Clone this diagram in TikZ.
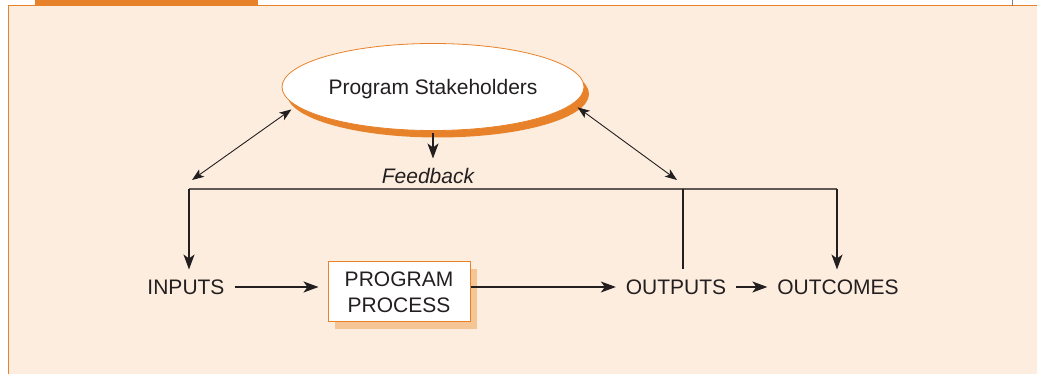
\documentclass[tikz,border=0pt]{standalone}
\usepackage{fontspec}
\setmainfont{Liberation Sans}
\usetikzlibrary{arrows.meta, positioning, shapes.geometric, shadows}

\definecolor{panel}{HTML}{FDEDDE}
\definecolor{accent}{HTML}{E8822A}
\definecolor{accentlight}{HTML}{F5C596}
\definecolor{ink}{HTML}{231F20}
\definecolor{rule}{HTML}{615855}

\begin{document}
\begin{tikzpicture}[
  x=1pt, y=-1pt,
  font=\fontsize{21}{26}\selectfont,
  stake/.style={ellipse, draw=accent, line width=0.8pt, fill=white, text=ink,
                minimum width=302pt, minimum height=87pt, inner sep=0pt, outer sep=7pt,
                text height=15pt, text depth=0pt,
                drop shadow={shadow xshift=5pt, shadow yshift=-7pt, fill=accent, opacity=1}},
  procbox/.style={draw=accent, line width=1pt, fill=white, text=ink, align=center,
                  minimum width=142pt, minimum height=60pt, inner sep=0pt,
                  drop shadow={shadow xshift=7pt, shadow yshift=-7pt, fill=accentlight, opacity=1}},
  lbl/.style={text=ink, inner sep=0pt, outer sep=10pt, text height=15pt, text depth=0pt},
  arr/.style={-{Stealth[length=15pt, width=11pt, inset=4pt]}, ink, line width=1.1pt},
  dbl/.style={{Stealth[length=12pt, width=9pt, inset=3pt]}-{Stealth[length=12pt, width=9pt, inset=3pt]},
              ink, line width=0.9pt},
  fbline/.style={rule, line width=1.6pt}
]
\useasboundingbox (0,0) rectangle (1037,374);

%% ---------- panel ----------
\fill[panel] (8,6) rectangle (1037,374);
\draw[accent, line width=1pt] (8,374) -- (8,6) -- (1037,6);
\fill[accent] (35,0) rectangle (258,6);
\draw[gray, line width=0.8pt] (1012,0) -- (1012,6);

%% ---------- nodes ----------
\node[stake] (stake) at (433,87) {Program Stakeholders};
\node[lbl] (fb) at (428,176) {\itshape Feedback};
\node[lbl] (inputs) at (186,287) {INPUTS};
\node[procbox] (proc) at (399,292) {PROGRAM\\PROCESS};
\node[lbl] (outputs) at (676,287) {OUTPUTS};
\node[lbl] (outcomes) at (838,287) {OUTCOMES};

%% ---------- feedback loop ----------
\coordinate (fbl) at (189,189);
\coordinate (fbo) at (683,189);
\coordinate (fbr) at (837,189);
\coordinate (dl) at (192,180);
\coordinate (dr) at (677,180);
\draw[fbline] (fbl) -- (fbr);
\draw[arr] (fbl) -- (fbl |- inputs.north);
\draw[arr] (fbr) -- (fbr |- outcomes.north);
\draw[ink, line width=1.1pt] (fbo) -- (fbo |- outputs.north);
\draw[arr, shorten <=-4pt] (stake.south) -- (stake.south |- fb.north);
\draw[dbl] (dl) -- (stake.189);
\draw[dbl] (dr) -- (stake.352);

%% ---------- main flow ----------
\draw[arr, shorten >=9pt] (inputs) -- (inputs -| proc.west);
\draw[arr] (proc.east |- outputs) -- (outputs);
\draw[arr] (outputs) -- (outcomes);
\end{tikzpicture}
\end{document}
